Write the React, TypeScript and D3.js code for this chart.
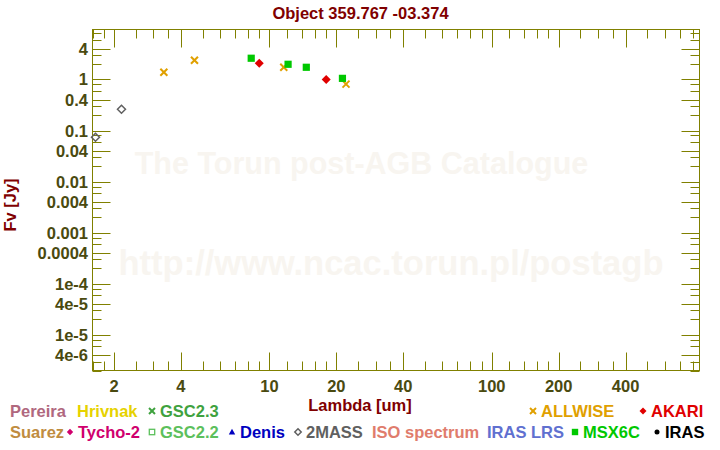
import React from "react";
import * as d3 from "d3";

// ---- data ----
const allwiseLambda = [3.35, 4.6, 11.6, 22.1];
const allwiseFlux = [1.38, 2.38, 1.73, 0.81];
const msxLambda = [8.28, 12.13, 14.65, 21.3];
const msxFlux = [2.6, 1.98, 1.73, 1.05];
const akariLambda = [9, 18];
const akariFlux = [2.07, 1.0];
const twomassLambda = [1.65, 2.16];
const twomassFlux = [0.074, 0.261];

const xTickLabels = ["2", "4", "10", "20", "40", "100", "200", "400"];
const xMajorValues = [2, 4, 10, 20, 40, 100, 200, 400];
const xMinorMantissas = [1, 1.2, 1.4, 1.6, 1.8, 2.5, 3, 3.5, 5, 6, 7, 8, 9];
const xDecades = [1, 10, 100];

const yTickLabels = ["4", "1", "0.4", "0.1", "0.04", "0.01", "0.004", "0.001", "0.0004", "1e-4", "4e-5", "1e-5", "4e-6"];
const yMajorValues = [4, 1, 0.4, 0.1, 0.04, 0.01, 0.004, 0.001, 0.0004, 1e-4, 4e-5, 1e-5, 4e-6];
const yMinorMantissas = [2, 3, 6, 8];
const yDecades = [1e-6, 1e-5, 1e-4, 1e-3, 1e-2, 1e-1, 1];

const legendRow1 = ["Pereira", "Hrivnak", "GSC2.3", "ALLWISE", "AKARI"];
const legendRow1Colors = ["#b0687e", "#e6d200", "#3fa23f", "#e0a000", "#e00000"];
const legendRow1Symbols = ["", "", "x", "x", "diamond"];
const legendRow2 = ["Suarez", "Tycho-2", "GSC2.2", "Denis", "2MASS", "ISO spectrum", "IRAS LRS", "MSX6C", "IRAS"];
const legendRow2Colors = ["#c08c40", "#d0006e", "#5cc05c", "#0000c0", "#606060", "#e07c6c", "#6070d0", "#00c800", "#000000"];
const legendRow2Symbols = ["", "diamond", "square-open", "triangle", "diamond-open", "", "", "square", "circle"];

// ---- layout ----
const W = 720, H = 450;
const X0 = 92.5, X1 = 699.5, Y0 = 370.5, Y1 = 29.5;
const legendRow1X = [10, 77, 160, 541, 651];
const legendRow2X = [10, 78, 160, 240, 306, 372, 487, 583, 665];
const FONT = "'Liberation Sans', Arial, Helvetica, sans-serif";
const AXIS = "#808000";
const TICKTXT = "#4a4a10";
const DARKRED = "#800000";
const WATERMARK = "#f8f5f0";

function Symbol({ type, x, y, color, s }: { type: string; x: number; y: number; color: string; s: number }) {
  if (type === "x") {
    return (
      <g stroke={color} strokeWidth={2}>
        <line x1={x - s} y1={y - s} x2={x + s} y2={y + s} />
        <line x1={x - s} y1={y + s} x2={x + s} y2={y - s} />
      </g>
    );
  }
  if (type === "diamond" || type === "diamond-open") {
    const p = `M${x},${y - s}L${x + s},${y}L${x},${y + s}L${x - s},${y}Z`;
    return type === "diamond" ? (
      <path d={p} fill={color} />
    ) : (
      <path d={p} fill="none" stroke={color} strokeWidth={1.5} />
    );
  }
  if (type === "square") return <rect x={x - s} y={y - s} width={2 * s} height={2 * s} fill={color} />;
  if (type === "square-open")
    return <rect x={x - s + 0.5} y={y - s + 0.5} width={2 * s - 1} height={2 * s - 1} fill="none" stroke={color} strokeWidth={1.3} />;
  if (type === "triangle") return <path d={`M${x},${y - s}L${x + s},${y + s * 0.8}L${x - s},${y + s * 0.8}Z`} fill={color} />;
  if (type === "circle") return <circle cx={x} cy={y} r={s} fill={color} />;
  return null;
}

export default function App() {
  const x = d3.scaleLog().domain([1.6, 860]).range([X0, X1]);
  const y = d3.scaleLog().domain([2e-6, 9.5]).range([Y0, Y1]);

  const xMinor: number[] = [];
  xDecades.forEach((d) => xMinorMantissas.forEach((m) => xMinor.push(+(d * m).toPrecision(4))));
  const xMinorIn = xMinor.filter((v) => v >= 1.6 && v <= 860 && !xMajorValues.includes(v));
  const yMinor: number[] = [];
  yDecades.forEach((d) => yMinorMantissas.forEach((m) => yMinor.push(+(d * m).toPrecision(4))));
  const yMinorIn = yMinor.filter((v) => v >= 2e-6 && v <= 9.5);

  const LONG = 18, SHORT = 9;

  const series = [
    { lam: twomassLambda, flux: twomassFlux, type: "diamond-open", color: "#606060", s: 4 },
    { lam: allwiseLambda, flux: allwiseFlux, type: "x", color: "#e0a000", s: 3.5 },
    { lam: msxLambda, flux: msxFlux, type: "square", color: "#00c800", s: 3.6 },
    { lam: akariLambda, flux: akariFlux, type: "diamond", color: "#e00000", s: 4.5 },
  ];

  return (
    <svg width={W} height={H} style={{ position: "absolute", left: 0, top: 0, background: "#fff" }} fontFamily={FONT}>
      <rect width={W} height={H} fill="#fff" />
      {/* watermark */}
      <text x={361.5} y={174} textAnchor="middle" fontSize={30.5} fontWeight="bold" fill={WATERMARK}>
        The Torun post-AGB Catalogue
      </text>
      <text x={391} y={275} textAnchor="middle" fontSize={34.5} fontWeight="bold" fill={WATERMARK}>
        http://www.ncac.torun.pl/postagb
      </text>

      {/* title */}
      <text x={360.5} y={19} textAnchor="middle" fontSize={16.5} fontWeight="bold" fill={DARKRED}>
        Object 359.767 -03.374
      </text>

      {/* frame */}
      <rect x={X0} y={Y1} width={X1 - X0} height={Y0 - Y1} fill="none" stroke={AXIS} strokeWidth={1} />

      {/* ticks */}
      <g stroke={AXIS} strokeWidth={1}>
        {xMajorValues.map((v) => {
          const px = Math.round(x(v)) + 0.5;
          return (
            <g key={"xM" + v}>
              <line x1={px} x2={px} y1={Y0} y2={Y0 - LONG} />
              <line x1={px} x2={px} y1={Y1} y2={Y1 + LONG} />
            </g>
          );
        })}
        {xMinorIn.map((v) => {
          const px = Math.round(x(v)) + 0.5;
          return (
            <g key={"xm" + v}>
              <line x1={px} x2={px} y1={Y0} y2={Y0 - SHORT} />
              <line x1={px} x2={px} y1={Y1} y2={Y1 + SHORT} />
            </g>
          );
        })}
        {yMajorValues.map((v) => {
          const py = Math.round(y(v)) + 0.5;
          return (
            <g key={"yM" + v}>
              <line x1={X0} x2={X0 + LONG} y1={py} y2={py} />
              <line x1={X1} x2={X1 - LONG} y1={py} y2={py} />
            </g>
          );
        })}
        {yMinorIn.map((v) => {
          const py = Math.round(y(v)) + 0.5;
          return (
            <g key={"ym" + v}>
              <line x1={X0} x2={X0 + SHORT} y1={py} y2={py} />
              <line x1={X1} x2={X1 - SHORT} y1={py} y2={py} />
            </g>
          );
        })}
      </g>

      {/* tick labels */}
      <g fontSize={16.5} fontWeight="bold" fill={TICKTXT}>
        {xMajorValues.map((v, i) => (
          <text key={"xl" + v} x={x(v)} y={392} textAnchor="middle">
            {xTickLabels[i]}
          </text>
        ))}
        {yMajorValues.map((v, i) => (
          <text key={"yl" + v} x={88} y={y(v) + 6} textAnchor="end">
            {yTickLabels[i]}
          </text>
        ))}
      </g>

      {/* axis titles */}
      <text x={360} y={411} textAnchor="middle" fontSize={16.5} fontWeight="bold" fill={DARKRED}>
        Lambda [um]
      </text>
      <text transform="translate(16,205) rotate(-90)" textAnchor="middle" fontSize={16.5} fontWeight="bold" fill={DARKRED}>
        Fv [Jy]
      </text>

      {/* data */}
      {series.map((s, si) =>
        s.lam.map((l, i) => (
          <Symbol key={si + "-" + i} type={s.type} x={x(l)} y={y(s.flux[i])} color={s.color} s={s.s} />
        ))
      )}

      {/* legend */}
      <g fontSize={16.5} fontWeight="bold">
        {legendRow1.map((name, i) => (
          <g key={"l1" + name}>
            <Symbol type={legendRow1Symbols[i]} x={legendRow1X[i] - 8} y={411} color={legendRow1Colors[i]} s={legendRow1Symbols[i] === "x" ? 3 : 3.5} />
            <text x={legendRow1X[i]} y={417} fill={legendRow1Colors[i]}>
              {name}
            </text>
          </g>
        ))}
        {legendRow2.map((name, i) => (
          <g key={"l2" + name}>
            <Symbol type={legendRow2Symbols[i]} x={legendRow2X[i] - 8} y={432} color={legendRow2Colors[i]} s={legendRow2Symbols[i] === "circle" ? 2.5 : 3.2} />
            <text x={legendRow2X[i]} y={438} fill={legendRow2Colors[i]}>
              {name}
            </text>
          </g>
        ))}
      </g>
    </svg>
  );
}
